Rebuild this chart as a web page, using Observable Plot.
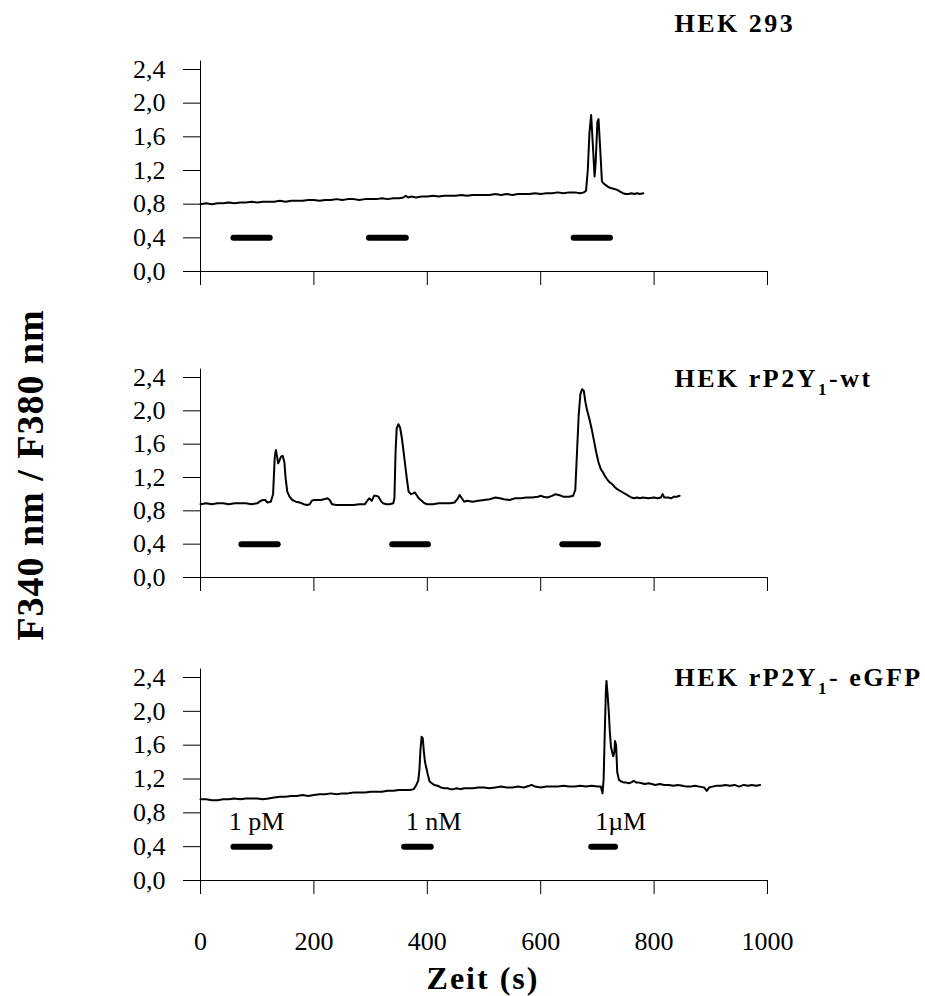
<!DOCTYPE html>
<html>
<head>
<meta charset="utf-8">
<script src="https://cdn.jsdelivr.net/npm/d3@7"></script>
<script src="https://cdn.jsdelivr.net/npm/@observablehq/plot@0.6"></script>
<style>
  body { margin: 0; background: #fff; }
  #chart { position: relative; width: 925px; height: 996px; background: #fff;
           font-family: "Liberation Serif", "Times New Roman", serif; color: #000; }
  #chart svg { position: absolute; left: 0; overflow: visible; }
  .ylab { position: absolute; left: 30px; top: 475px; white-space: nowrap;
          transform: translate(-50%, -50%) rotate(-90deg);
          font-weight: bold; font-size: 38px; letter-spacing: 1px; line-height: 1; }
  .xlab { position: absolute; left: 483px; top: 962px; white-space: nowrap;
          transform: translateX(-50%); font-weight: bold; font-size: 32px;
          letter-spacing: 2px; line-height: 1; }
</style>
</head>
<body>
<div id="chart">
  <div class="ylab">F340 nm / F380 nm</div>
  <div class="xlab">Zeit (s)</div>
</div>
<script>
// ---------- axis ticks ----------
const timeTicks = [0, 200, 400, 600, 800, 1000];
const ratioTicks = [0, 0.4, 0.8, 1.2, 1.6, 2.0, 2.4];

// ---------- panel titles ----------
const titleHek293 = ["HEK 293", "", ""];
const titleWt = ["HEK rP2Y", "1", "-wt"];
const titleEgfp = ["HEK rP2Y", "1", "- eGFP"];

// ---------- agonist application bars (start, end in s) ----------
const barLevel = 0.4;
const barsHek293 = [[59, 123], [298, 363], [659, 723]];
const barsWt = [[73, 137], [339, 402], [639, 702]];
const barsEgfp = [[59, 123], [360, 407], [690, 732]];

// ---------- concentration labels (bottom panel) ----------
const concLabels = ["1 pM", "1 nM", "1µM"];
const concStart = [50, 362, 696];
const concLevel = 0.69;

// ---------- traces: HEK 293 ----------
const hek293Time = [0,10,20,30,40,50,60,70,80,90,100,110,120,130,140,150,160,170,180,190,200,210,220,230,240,250,260,270,280,290,300,310,320,330,340,350,358,362,366,372,380,390,400,410,420,430,440,450,460,470,480,490,500,510,520,530,540,550,560,570,580,590,600,610,620,630,640,650,660,670,676,680,683,686,689,692,695,697,700,702,705,708,712,716,720,725,730,735,740,745,750,755,760,765,770,775,781];
const hek293Ratio = [0.80,0.81,0.80,0.81,0.81,0.82,0.81,0.82,0.82,0.83,0.82,0.83,0.83,0.83,0.84,0.83,0.84,0.84,0.84,0.85,0.85,0.84,0.85,0.85,0.86,0.85,0.86,0.86,0.85,0.86,0.86,0.86,0.87,0.86,0.87,0.87,0.88,0.90,0.88,0.89,0.88,0.89,0.89,0.90,0.89,0.90,0.90,0.90,0.91,0.90,0.91,0.91,0.91,0.91,0.92,0.91,0.92,0.91,0.92,0.92,0.92,0.93,0.92,0.93,0.93,0.94,0.93,0.94,0.94,0.93,0.94,0.96,1.20,1.65,1.86,1.50,1.13,1.30,1.78,1.81,1.45,1.07,1.04,1.02,1.00,0.99,0.98,0.97,0.95,0.93,0.92,0.92,0.93,0.92,0.93,0.92,0.93];

// ---------- traces: HEK rP2Y1-wt ----------
const wtTime = [0,10,20,30,40,50,60,70,80,90,100,106,110,114,118,124,128,131,133,135,137,139,142,145,148,150,153,157,162,168,175,182,188,193,196,200,206,212,218,224,228,232,240,250,260,270,280,290,295,298,302,306,310,314,318,322,328,334,340,342,344,346,349,352,355,358,361,364,367,371,375,378,381,385,390,395,400,410,420,430,440,448,453,457,461,465,470,480,490,500,510,520,528,535,545,555,565,575,585,595,600,605,612,620,626,632,640,650,657,661,664,667,670,673,676,679,682,686,690,694,698,702,706,710,714,718,722,726,730,735,740,745,750,755,760,765,770,775,780,790,800,806,812,815,818,825,830,835,840,845];
const wtRatio = [0.88,0.89,0.88,0.89,0.89,0.88,0.89,0.89,0.89,0.88,0.89,0.92,0.93,0.93,0.90,0.91,1.00,1.45,1.53,1.45,1.37,1.40,1.45,1.46,1.38,1.20,1.03,0.97,0.93,0.91,0.90,0.88,0.87,0.88,0.92,0.93,0.93,0.93,0.94,0.95,0.93,0.88,0.87,0.87,0.87,0.87,0.88,0.88,0.93,0.95,0.92,0.98,0.98,0.97,0.92,0.89,0.88,0.88,0.89,0.95,1.50,1.79,1.84,1.80,1.68,1.52,1.35,1.18,1.03,1.00,1.01,1.02,0.99,0.95,0.92,0.89,0.88,0.88,0.89,0.89,0.89,0.90,0.94,0.99,0.95,0.91,0.92,0.91,0.92,0.93,0.94,0.96,0.95,0.94,0.93,0.95,0.95,0.96,0.96,0.97,0.98,0.97,0.96,0.98,1.00,0.99,0.97,0.97,0.98,1.05,1.50,1.95,2.20,2.26,2.24,2.10,2.00,1.90,1.78,1.64,1.50,1.38,1.30,1.26,1.21,1.17,1.14,1.12,1.09,1.06,1.04,1.02,1.00,0.98,0.96,0.95,0.96,0.95,0.96,0.95,0.96,0.95,0.96,1.00,0.96,0.96,0.95,0.97,0.97,0.98];

// ---------- traces: HEK rP2Y1-eGFP ----------
const egfpTime = [0,10,20,30,40,50,60,70,80,90,100,110,120,130,140,150,160,170,180,190,200,210,220,230,240,250,260,270,280,290,300,310,320,330,340,350,360,370,376,380,384,386,388,390,392,394,396,398,401,404,408,412,418,424,430,436,440,446,452,458,465,472,480,490,500,510,520,530,540,550,560,570,580,584,590,600,610,620,630,640,650,660,670,680,690,700,706,709,711,713,715,716,718,720,722,724,726,728,730,731,733,735,738,742,746,750,755,760,764,768,772,778,784,790,796,802,810,818,826,834,842,850,857,864,872,880,888,893,897,903,910,918,926,934,942,950,958,966,972,980,987];
const egfpRatio = [0.96,0.96,0.95,0.95,0.96,0.96,0.97,0.96,0.97,0.97,0.97,0.96,0.97,0.98,0.99,0.99,1.00,1.00,1.01,1.00,1.01,1.02,1.02,1.03,1.02,1.03,1.03,1.04,1.04,1.04,1.05,1.05,1.05,1.06,1.06,1.07,1.07,1.07,1.08,1.12,1.18,1.30,1.55,1.70,1.68,1.52,1.40,1.34,1.25,1.17,1.15,1.13,1.12,1.10,1.09,1.09,1.08,1.08,1.09,1.08,1.09,1.09,1.09,1.10,1.10,1.09,1.10,1.11,1.10,1.10,1.11,1.10,1.12,1.13,1.11,1.10,1.11,1.11,1.11,1.12,1.11,1.11,1.12,1.11,1.12,1.11,1.11,1.03,1.20,1.75,2.25,2.36,2.20,2.00,1.75,1.58,1.52,1.47,1.52,1.65,1.60,1.28,1.19,1.17,1.16,1.16,1.15,1.16,1.18,1.16,1.16,1.15,1.14,1.15,1.14,1.13,1.14,1.13,1.13,1.12,1.13,1.12,1.11,1.11,1.12,1.11,1.10,1.06,1.10,1.11,1.12,1.12,1.13,1.12,1.13,1.11,1.13,1.12,1.13,1.12,1.13];

// ---------- layout of the three panels ----------
const panels = [
  { time: hek293Time, ratio: hek293Ratio, bars: barsHek293, title: titleHek293,
    top: 0, height: 300, marginTop: 69, marginBottom: 29, titleY: 2.95, xLabels: false },
  { time: wtTime, ratio: wtRatio, bars: barsWt, title: titleWt,
    top: 300, height: 300, marginTop: 77, marginBottom: 23, titleY: 2.39, xLabels: false },
  { time: egfpTime, ratio: egfpRatio, bars: barsEgfp, title: titleEgfp,
    top: 600, height: 396, marginTop: 77, marginBottom: 116, titleY: 2.40, xLabels: true }
];

const fmtRatio = d => d.toFixed(1).replace(".", ",");
const chart = document.getElementById("chart");

panels.forEach((p, k) => {
  const trace = p.time.map((t, i) => ({ t, r: p.ratio[i] }));
  const bars = p.bars.map(([a, b]) => ({ a, b }));
  const fullTitle = p.title.join("");
  const marks = [
    Plot.ruleX([0], { y1: 0, y2: 2.5, stroke: "black", strokeWidth: 1 }),
    Plot.ruleY([0], { stroke: "black", strokeWidth: 1 }),
    Plot.axisY({ ticks: ratioTicks, tickSize: 17, tickPadding: 18, tickFormat: fmtRatio,
                 label: null, fontSize: 26 }),
    Plot.axisX({ ticks: timeTicks, tickSize: 14, tickPadding: 37, label: null, fontSize: 26,
                 tickFormat: p.xLabels ? (d => String(d)) : (() => "") }),
    Plot.ruleY(bars, { x1: "a", x2: "b", y: () => barLevel, stroke: "black",
                       strokeWidth: 6, strokeLinecap: "round" }),
    Plot.line(trace, { x: "t", y: "r", stroke: "black", strokeWidth: 2, curve: "linear" }),
    Plot.text([fullTitle], { x: () => 836, y: () => p.titleY, text: d => d,
                             textAnchor: "start", fontWeight: "bold", fontSize: 26 })
  ];
  if (p.xLabels) {
    marks.push(Plot.text(concLabels, { x: (d, i) => concStart[i], y: () => concLevel,
                                       text: d => d, textAnchor: "start", fontSize: 26 }));
  }
  const svg = Plot.plot({
    width: 925,
    height: p.height,
    marginLeft: 200,
    marginRight: 158,
    marginTop: p.marginTop,
    marginBottom: p.marginBottom,
    x: { domain: [0, 1000] },
    y: { domain: [0, 2.4] },
    style: { fontFamily: "'Liberation Serif', 'Times New Roman', serif", fontSize: "26px",
             color: "black", background: "transparent", overflow: "visible" },
    marks
  });
  svg.style.top = p.top + "px";
  // title with subscript and letter spacing
  svg.querySelectorAll("text").forEach(t => {
    if (t.textContent === fullTitle) {
      t.textContent = "";
      t.style.letterSpacing = "2.5px";
      const [pre, sub, post] = p.title;
      const s1 = document.createElementNS("http://www.w3.org/2000/svg", "tspan");
      s1.textContent = pre; t.appendChild(s1);
      if (sub) {
        const s2 = document.createElementNS("http://www.w3.org/2000/svg", "tspan");
        s2.textContent = sub; s2.setAttribute("font-size", "17px"); s2.setAttribute("dy", "8");
        t.appendChild(s2);
        const s3 = document.createElementNS("http://www.w3.org/2000/svg", "tspan");
        s3.textContent = post; s3.setAttribute("dy", "-8");
        t.appendChild(s3);
      }
    }
  });
  chart.appendChild(svg);
});
</script>
</body>
</html>
